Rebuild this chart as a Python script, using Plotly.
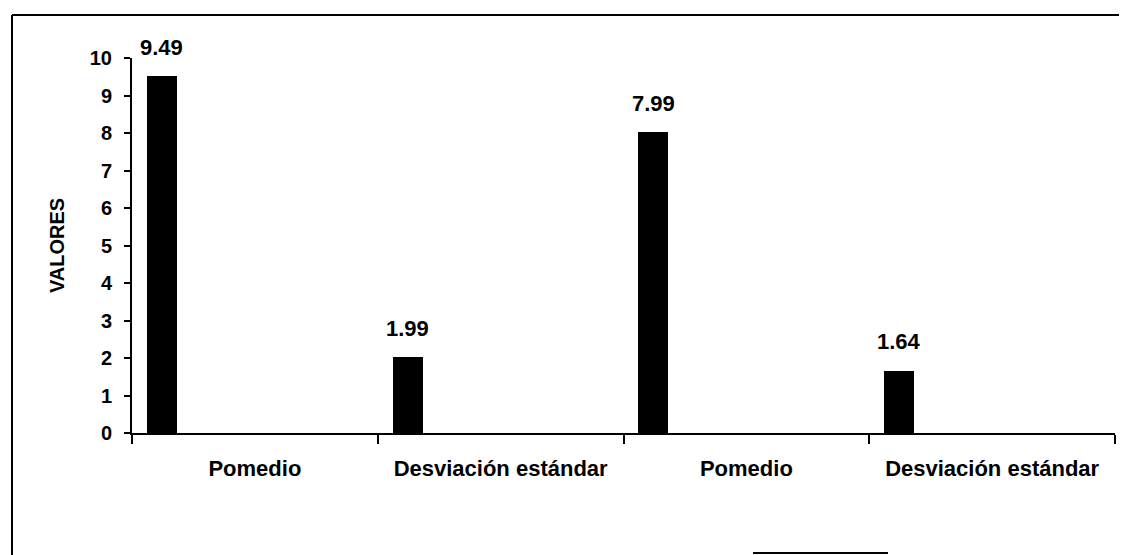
import plotly.graph_objects as go

# ---- data ----
categories = ["Pomedio", "Desviación estándar", "Pomedio", "Desviación estándar"]
values = [9.49, 1.99, 7.99, 1.64]
value_labels = ["9.49", "1.99", "7.99", "1.64"]
y_ticks = list(range(0, 11))

FONT = "Arial, Liberation Sans, sans-serif"
BAR_W = 0.114
BAR_OFF = -0.435

xs = list(range(len(categories)))

fig = go.Figure()
fig.add_trace(go.Bar(
    x=xs, y=values,
    width=BAR_W, offset=BAR_OFF,
    marker=dict(color="black", line=dict(color="black", width=2)),
    hoverinfo="skip",
))

for xi, v, lab in zip(xs, values, value_labels):
    fig.add_annotation(
        x=xi + BAR_OFF + BAR_W / 2, y=v, xref="x", yref="y",
        text="<b>" + lab + "</b>", showarrow=False, yanchor="middle", yshift=30,
        font=dict(family=FONT, size=22, color="black"),
    )

# page body has an 8px margin, so the figure is shifted by (8, 8)
fig.update_layout(
    width=1119, height=547,
    margin=dict(l=124, r=12, t=50, b=122),
    paper_bgcolor="white", plot_bgcolor="white",
    showlegend=False,
    font=dict(family=FONT, size=20, color="black"),
    bargap=0,
)

fig.update_xaxes(
    range=[-0.5, len(categories) - 0.5],
    tickvals=xs, ticktext=["<b>" + c + "</b>" for c in categories],
    ticks="", ticklen=0, ticklabelstandoff=15,
    tickfont=dict(family=FONT, size=22, color="black"),
    showline=True, linecolor="black", linewidth=2,
    showgrid=False, zeroline=False,
    minor=dict(tickvals=[i - 0.5 for i in range(len(categories) + 1)],
               ticks="outside", ticklen=9, tickwidth=2, tickcolor="black",
               showgrid=False),
)

fig.update_yaxes(
    range=[0, 10], tickvals=y_ticks, ticktext=["<b>%d</b>" % t for t in y_ticks],
    ticks="outside", ticklen=6, tickwidth=2, tickcolor="black",
    ticklabelstandoff=8,
    tickfont=dict(family=FONT, size=20, color="black"),
    showline=True, linecolor="black", linewidth=2,
    showgrid=False, zeroline=False,
    title=dict(text="<b>VALORES</b>", font=dict(family=FONT, size=20, color="black"),
               standoff=20),
)

# outer frame fragments of the scanned figure
fig.add_shape(type="line", xref="paper", yref="paper",
              x0=-120/983, x1=1.0 + 12/983, y0=1 + 43/375, y1=1 + 43/375,
              line=dict(color="black", width=2))
fig.add_shape(type="line", xref="paper", yref="paper",
              x0=-120/983, x1=-120/983, y0=1 + 43/375, y1=-122/375,
              line=dict(color="black", width=2))
fig.add_shape(type="line", xref="paper", yref="paper",
              x0=(753-132)/983, x1=(888-132)/983, y0=-120/375, y1=-120/375,
              line=dict(color="black", width=2))

fig.write_html("out.html")
